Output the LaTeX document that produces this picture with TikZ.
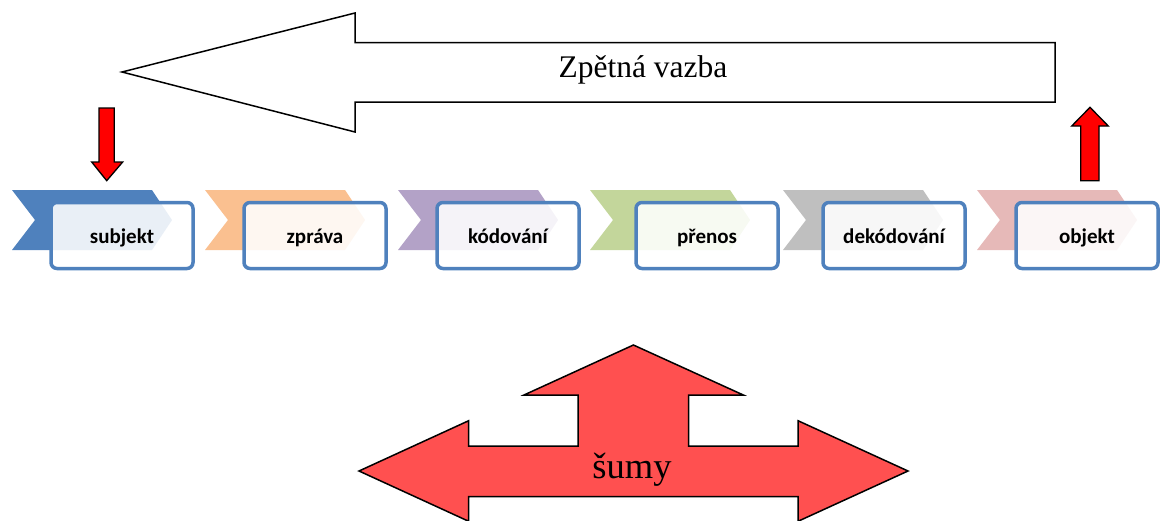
\documentclass[tikz,border=0pt]{standalone}
\usepackage{fontspec}
\setmainfont{Liberation Serif}
\newfontfamily\calib{Carlito}
\definecolor{bblue}{HTML}{4F81BD}
\definecolor{corange}{HTML}{FAC090}
\definecolor{cpurple}{HTML}{B3A2C7}
\definecolor{cgreen}{HTML}{C3D69B}
\definecolor{cgray}{HTML}{BFBFBF}
\definecolor{cpink}{HTML}{E6B9B8}
\definecolor{noise}{HTML}{FF5050}
\begin{document}
\begin{tikzpicture}[x=1pt,y=-1pt,
  box/.style={draw=bblue,line width=3.5pt,rounded corners=6pt,fill=white,fill opacity=0.88,draw opacity=1,minimum width=142pt,minimum height=66pt,inner sep=0pt},
  lab/.style={font=\calib\bfseries\fontsize{21}{25}\selectfont,anchor=base,inner sep=0pt},
  bigarrow/.style={draw=black,line width=1.5pt,line join=miter},
  redarrow/.style={draw=black,line width=1.3pt,fill=red,line join=miter}]
\useasboundingbox (0,0) rectangle (1160,520);
% feedback arrow
\draw[bigarrow,fill=white] (122,72) -- (355,13) -- (355,42.5) -- (1055,42.5) -- (1055,102) -- (355,102) -- (355,132) -- cycle;
\node[font=\fontsize{31.5}{36}\selectfont,anchor=base,inner sep=0pt] (fb) at (643,77.7) {Zpětná vazba};
% small red arrows
\draw[redarrow] (99,108) -- (114.3,108) -- (114.3,162) -- (122.7,162) -- (106.7,180.7) -- (91.7,162) -- (99,162) -- cycle;
\draw[redarrow] (1080.7,180.7) -- (1099,180.7) -- (1099,126) -- (1108.3,126) -- (1090,107.3) -- (1071.7,126) -- (1080.7,126) -- cycle;
% chevrons
\foreach \x/\c in {12/bblue,205/corange,398/cpurple,590/cgreen,783/cgray,977/cpink}{
  \fill[\c] (\x,190) -- (\x+140,190) -- (\x+160,220) -- (\x+140,250) -- (\x,250) -- (\x+23,220) -- cycle;
}
% boxes
\node[box] (b1) at (122,235.5) {};
\node[box] (b2) at (315,235.5) {};
\node[box] (b3) at (508,235.5) {};
\node[box] (b4) at (707,235.5) {};
\node[box] (b5) at (894,235.5) {};
\node[box] (b6) at (1087,235.5) {};
\node[lab] (t1) at (122,243) {subjekt};
\node[lab] (t2) at (315,243) {zpráva};
\node[lab] (t3) at (508,243) {kódování};
\node[lab] (t4) at (707,243) {přenos};
\node[lab] (t5) at (894,243) {dekódování};
\node[lab] (t6) at (1087,243) {objekt};
% noise arrow
\draw[bigarrow,fill=noise] (359,471) -- (468.7,420.7) -- (468.7,446) -- (578,446) -- (578,395) -- (524,395) -- (633.4,345) -- (743.3,395) -- (688.5,395) -- (688.5,446) -- (798,446) -- (798,420.7) -- (908,471) -- (798,521.3) -- (798,496.7) -- (468.7,496.7) -- (468.7,521.3) -- cycle;
\node[font=\fontsize{36.5}{42}\selectfont,anchor=base,inner sep=0pt] (sum) at (632,478) {šumy};
\end{tikzpicture}
\end{document}
